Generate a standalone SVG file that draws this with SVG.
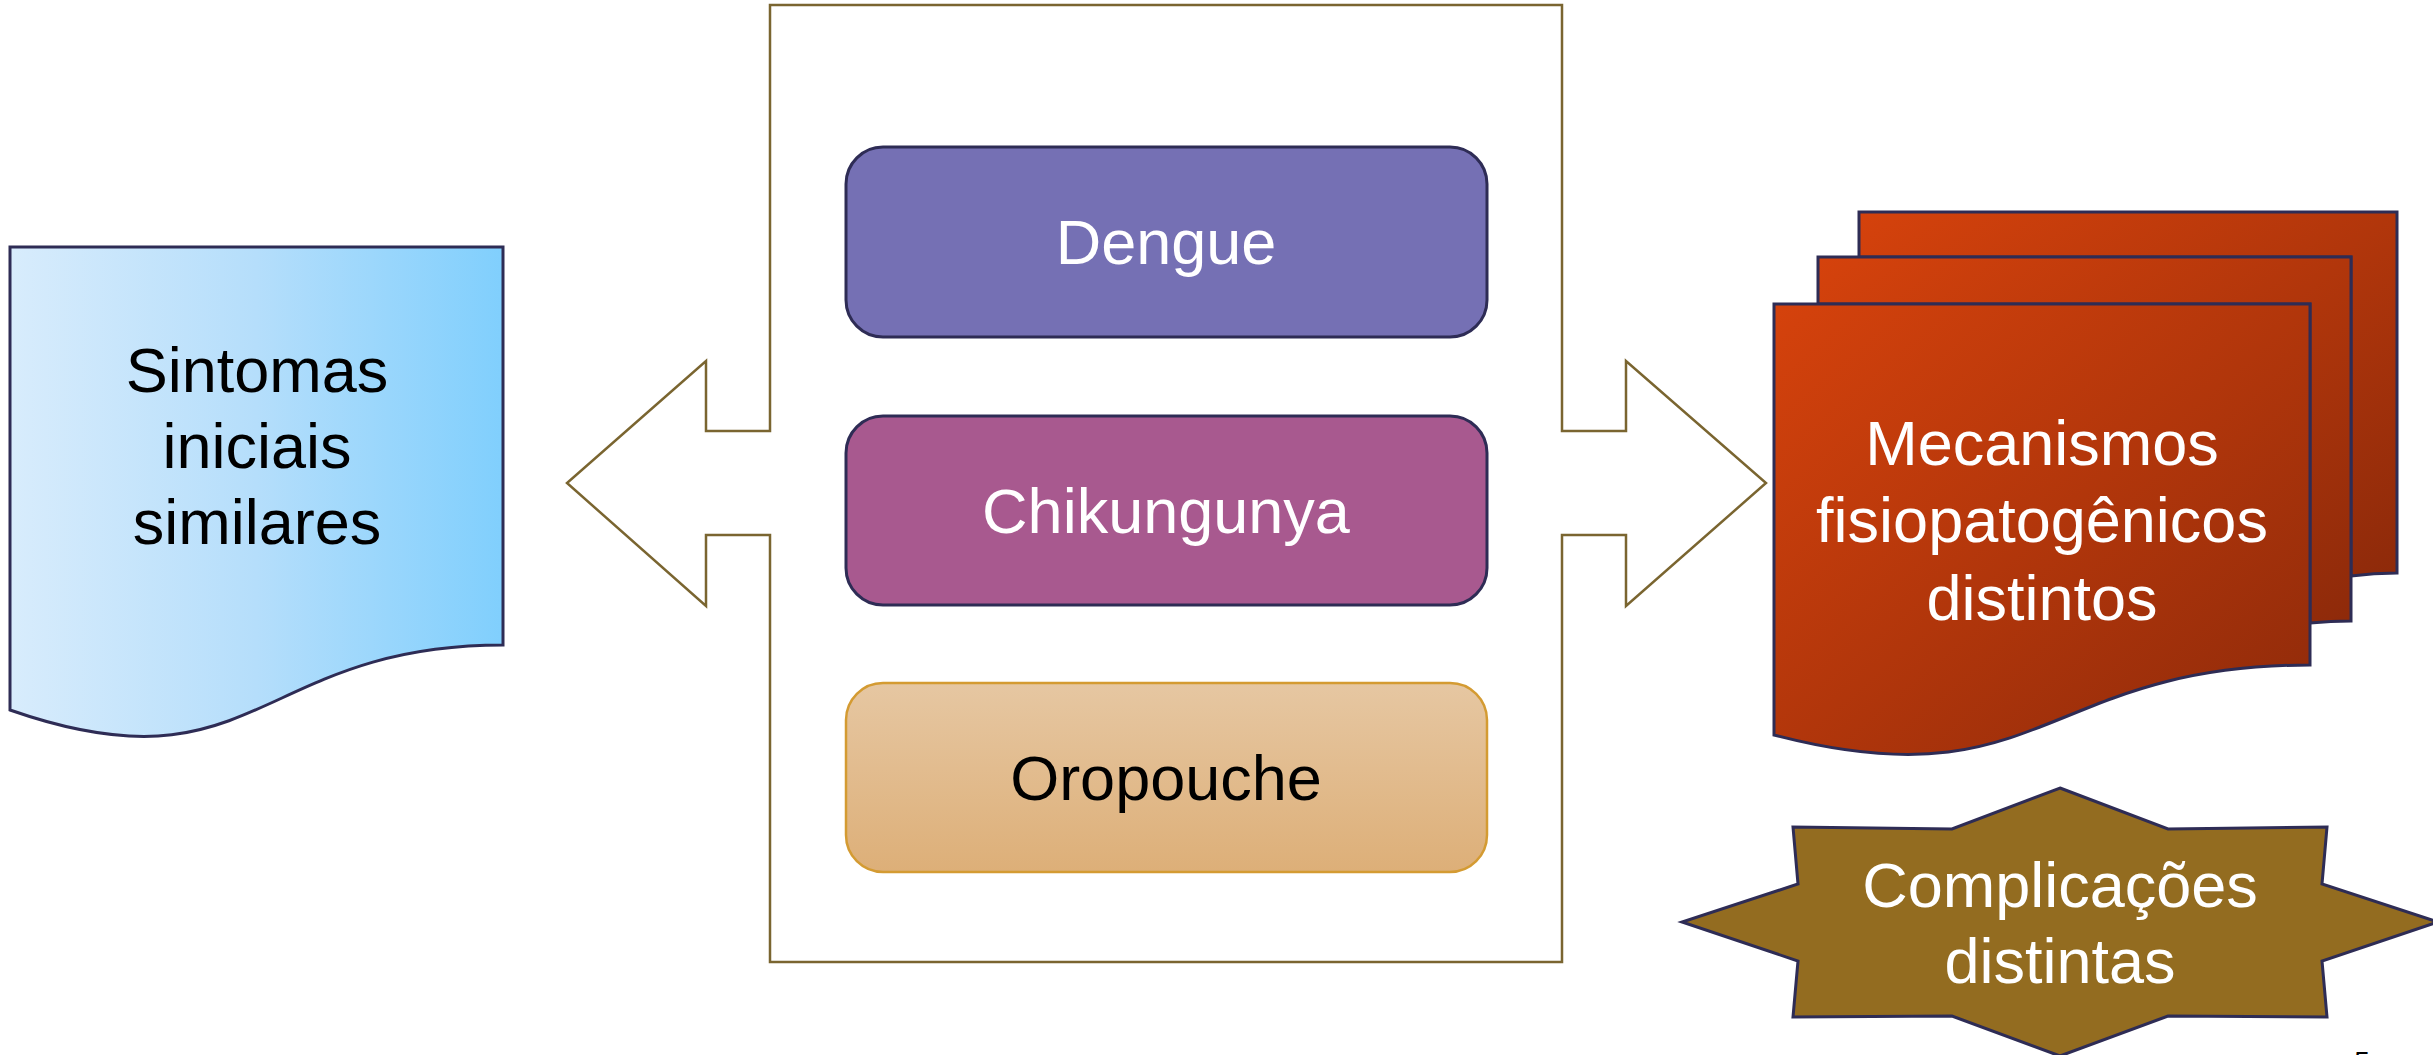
<svg xmlns="http://www.w3.org/2000/svg" width="2433" height="1055" viewBox="0 0 2433 1055">
<style>
text{font-family:"Liberation Sans",Arial,sans-serif;font-size:63px;text-anchor:middle}
.w{fill:#ffffff}
.k{fill:#000000}
.dark{stroke:#2e2c55;stroke-width:3}
</style>
<defs>
<linearGradient id="blue" x1="0" y1="0" x2="1" y2="0">
<stop offset="0" stop-color="#d8ecfc"/>
<stop offset="0.5" stop-color="#b5defb"/>
<stop offset="1" stop-color="#80cffd"/>
</linearGradient>
<linearGradient id="red" x1="0" y1="0" x2="1" y2="1">
<stop offset="0" stop-color="#d5420c"/>
<stop offset="1" stop-color="#8e2a0a"/>
</linearGradient>
<linearGradient id="sand" x1="0" y1="0" x2="0" y2="1">
<stop offset="0" stop-color="#e6c7a2"/>
<stop offset="1" stop-color="#ddaf78"/>
</linearGradient>
</defs>
<rect width="2433" height="1055" fill="#ffffff"/>

<g id="connectors">
<path d="M770,5 L1562,5 L1562,431 L1626,431 L1626,361 L1766,483 L1626,606 L1626,535 L1562,535 L1562,962 L770,962 L770,535 L706,535 L706,606 L567,483 L706,361 L706,431 L770,431 Z" fill="#ffffff" stroke="#7a6530" stroke-width="2.5" stroke-linejoin="miter"/>
</g>

<g id="sintomas">
<path d="M10,247 L503,247 L503,645 C256,645 256,796 10,710 Z" fill="url(#blue)" class="dark"/>
<text class="k" x="257" y="392">Sintomas</text>
<text class="k" x="257" y="468">iniciais</text>
<text class="k" x="257" y="544">similares</text>
</g>

<g id="dengue">
<rect x="846" y="147" width="641" height="190" rx="37" fill="#7570b4" class="dark"/>
<text class="w" x="1166" y="264">Dengue</text>
</g>

<g id="chikungunya">
<rect x="846" y="416" width="641" height="189" rx="37" fill="#a8598f" class="dark"/>
<text class="w" x="1166" y="533">Chikungunya</text>
</g>

<g id="oropouche">
<rect x="846" y="683" width="641" height="189" rx="37" fill="url(#sand)" stroke="#d49b32" stroke-width="2.5"/>
<text class="k" x="1166" y="800">Oropouche</text>
</g>

<g id="mecanismos">
<path d="M1859,212 L2397,212 L2397,573 C2374,573 2351,576 2351,576 L2351,257 L1859,257 Z" fill="url(#red)" class="dark"/>
<path d="M1818,257 L2351,257 L2351,621 C2331,621 2310,623 2310,623 L2310,304 L1818,304 Z" fill="url(#red)" class="dark"/>
<path d="M1774,304 L2310,304 L2310,665 C2042,665 2042,805 1774,735 Z" fill="url(#red)" class="dark"/>
<text class="w" x="2042" y="465">Mecanismos</text>
<text class="w" x="2042" y="542">fisiopatogênicos</text>
<text class="w" x="2042" y="620">distintos</text>
</g>

<g id="complicacoes">
<path d="M2060,788 L2168,829 L2327,827 L2322,884 L2438,922 L2322,961 L2327,1017 L2168,1016 L2060,1056 L1952,1016 L1793,1017 L1798,961 L1682,922 L1798,884 L1793,827 L1952,829 Z" fill="#936c20" class="dark"/>
<text class="w" x="2060" y="907">Complicações</text>
<text class="w" x="2060" y="983">distintas</text>
</g>

<text x="2362" y="1071" style="font-size:28px" fill="#000000">5</text>
</svg>
